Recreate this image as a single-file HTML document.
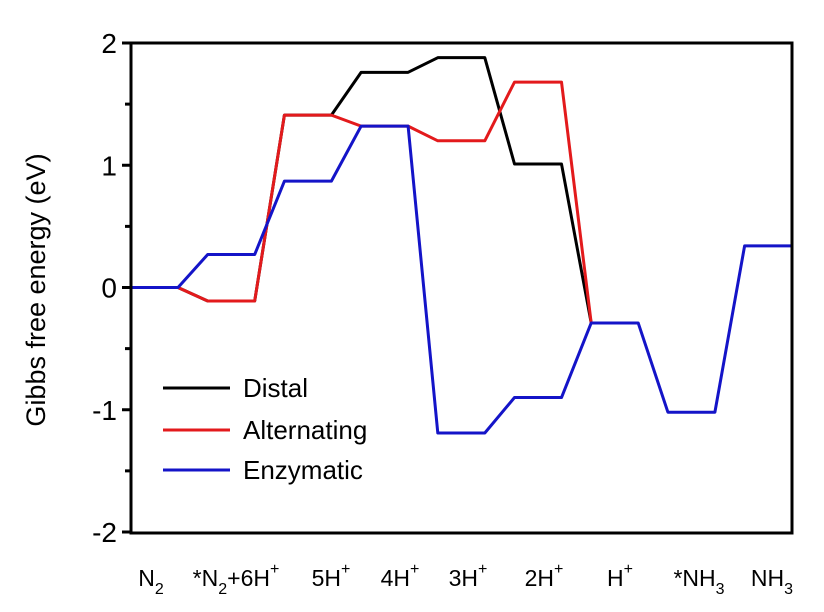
<!DOCTYPE html>
<html><head><meta charset="utf-8"><style>
body{margin:0;background:#fff}
svg{display:block;font-family:"Liberation Sans",Arial,sans-serif}
</style></head><body>
<svg width="824" height="612" viewBox="0 0 824 612">
<g id="marks"></g>
<rect x="131" y="43" width="661" height="490" fill="none" stroke="#000" stroke-width="3"/>
<g id="yaxis"></g>
<g id="xaxis"></g>
<text transform="translate(45,290) rotate(-90)" text-anchor="middle" font-size="27">Gibbs free energy (eV)</text>
<g>
 <line x1="163" y1="388" x2="230" y2="388" stroke="#000" stroke-width="3"/>
 <text x="243" y="397" font-size="26">Distal</text>
 <line x1="163" y1="430" x2="230" y2="430" stroke="#e31a1c" stroke-width="3"/>
 <text x="243" y="439" font-size="26">Alternating</text>
 <line x1="163" y1="470" x2="230" y2="470" stroke="#1414c8" stroke-width="3"/>
 <text x="243" y="479" font-size="26">Enzymatic</text>
</g>
</svg>
<script>
const categories=["N2","*N2+6H+","5H+","4H+","3H+","2H+","H+","*NH3","NH3"];
const distal=[0,-0.11,1.41,1.76,1.88,1.01,-0.29];
const alternating=[0,-0.11,1.41,1.32,1.20,1.68,-0.29];
const enzymatic=[0,0.27,0.87,1.32,-1.19,-0.90,-0.29,-1.02,0.34];
const yTicks=[-2,-1,0,1,2];
// label parts: [text, mode] mode: n normal, b subscript, p superscript
const labelParts=[
 [["N","n"],["2","b"]],
 [["*N","n"],["2","b"],["+6H","n"],["+","p"]],
 [["5H","n"],["+","p"]],
 [["4H","n"],["+","p"]],
 [["3H","n"],["+","p"]],
 [["2H","n"],["+","p"]],
 [["H","n"],["+","p"]],
 [["*NH","n"],["3","b"]],
 [["NH","n"],["3","b"]]
];
const NS="http://www.w3.org/2000/svg";
const x0=131,step=76.7,seg=47;
function y(v){return 287.5-v*122.25;}
function segStart(i){return x0+step*i;}
const marks=document.getElementById('marks');
function series(vals,color,name){
  let pts=[];
  vals.forEach((v,i)=>{pts.push([segStart(i),y(v)]);pts.push([Math.min(segStart(i)+seg,792),y(v)]);});
  if(vals.length<categories.length) pts.pop();
  const p=document.createElementNS(NS,'polyline');
  p.setAttribute('points',pts.map(q=>q.join(',')).join(' '));
  p.setAttribute('fill','none');p.setAttribute('stroke',color);p.setAttribute('stroke-width','3');
  p.setAttribute('stroke-linejoin','round');
  
  
  marks.appendChild(p);
}
series(distal,'#000','line-distal');
series(alternating,'#e31a1c','line-alternating');
series(enzymatic,'#1414c8','line-enzymatic');
const ya=document.getElementById('yaxis');
yTicks.forEach(t=>{
  const l=document.createElementNS(NS,'line');
  l.setAttribute('x1',122);l.setAttribute('x2',131);l.setAttribute('y1',y(t));l.setAttribute('y2',y(t));
  l.setAttribute('stroke','#000');l.setAttribute('stroke-width','3');
  
  
  ya.appendChild(l);
  if(t<2){const m=document.createElementNS(NS,'line');
  m.setAttribute('x1',125);m.setAttribute('x2',131);m.setAttribute('y1',y(t+0.5));m.setAttribute('y2',y(t+0.5));
  m.setAttribute('stroke','#000');m.setAttribute('stroke-width','3');
  
  
  ya.appendChild(m);}
  const tx=document.createElementNS(NS,'text');
  tx.setAttribute('x',117);tx.setAttribute('y',y(t)+10);tx.setAttribute('text-anchor','end');tx.setAttribute('font-size','28');
  tx.textContent=String(t);
  
  
  ya.appendChild(tx);
});
const xa=document.getElementById('xaxis');
const centers=[151,236,331,400,468,544,620,699,772];
categories.forEach((c,i)=>{
  const t=document.createElementNS(NS,'text');
  t.setAttribute('x',centers[i]);t.setAttribute('y',586);t.setAttribute('text-anchor','middle');t.setAttribute('font-size','23');
  
  
  let off=0;
  labelParts[i].forEach(([txt,mode])=>{
    const ts=document.createElementNS(NS,'tspan');
    let target=mode==='b'?8:(mode==='p'?-12:0);
    ts.setAttribute('dy',target-off);off=target;
    if(mode!=='n') ts.setAttribute('font-size','16');
    ts.textContent=txt;
    t.appendChild(ts);
  });
  xa.appendChild(t);
});
</script>
</body></html>
